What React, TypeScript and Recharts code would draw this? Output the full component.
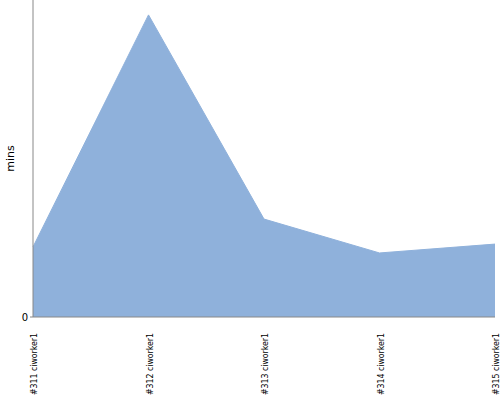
import React from 'react';
import { AreaChart, Area, XAxis, YAxis } from 'recharts';

const builds = ['#311 ciworker1', '#312 ciworker1', '#313 ciworker1', '#314 ciworker1', '#315 ciworker1'];
const mins = [22.1, 95.3, 30.9, 20.2, 23.0];
const yTicks = [0];

const chartData = builds.map((name, i) => ({ name, mins: mins[i] }));

const RotatedTick = (props: any) => {
    const { x, y, payload } = props;
    return (
        <text
            x={0}
            y={0}
            transform={`translate(${x + 4},${y + 8}) rotate(-90)`}
            textAnchor="end"
            fontSize={9}
            fontFamily="Liberation Sans Narrow, DejaVu Sans, sans-serif"
            fill="#000"
            textLength={62}
            lengthAdjust="spacingAndGlyphs"
        >
            {payload.value}
        </text>
    );
};

const YLabel = (props: any) => {
    const { viewBox } = props;
    const cy = viewBox.y + viewBox.height / 2;
    return (
        <text
            x={0}
            y={0}
            transform={`translate(14,${cy}) rotate(-90)`}
            textAnchor="middle"
            fontSize={11}
            fontFamily="DejaVu Sans, sans-serif"
            fill="#000"
        >
            mins
        </text>
    );
};

export default function App() {
    return (
        <div style={{ position: 'absolute', left: 0, top: 0, width: 500, height: 400, background: '#fff' }}>
            <AreaChart width={500} height={400} data={chartData} margin={{ top: 0, right: 5, left: 0, bottom: 0 }}>
                <XAxis
                    dataKey="name"
                    interval={0}
                    height={83}
                    tick={<RotatedTick />}
                    tickLine={false}
                    stroke="#888"
                />
                <YAxis
                    width={33}
                    domain={[0, 100]}
                    ticks={yTicks}
                    tickSize={3}
                    tick={{ fontSize: 10, fill: '#000', fontFamily: 'DejaVu Sans, sans-serif' }}
                    stroke="#888"
                    label={<YLabel />}
                />
                <Area
                    type="linear"
                    dataKey="mins"
                    stroke="#8fb1db"
                    strokeWidth={1}
                    fill="#8fb1db"
                    fillOpacity={1}
                    isAnimationActive={false}
                />
            </AreaChart>
        </div>
    );
}
